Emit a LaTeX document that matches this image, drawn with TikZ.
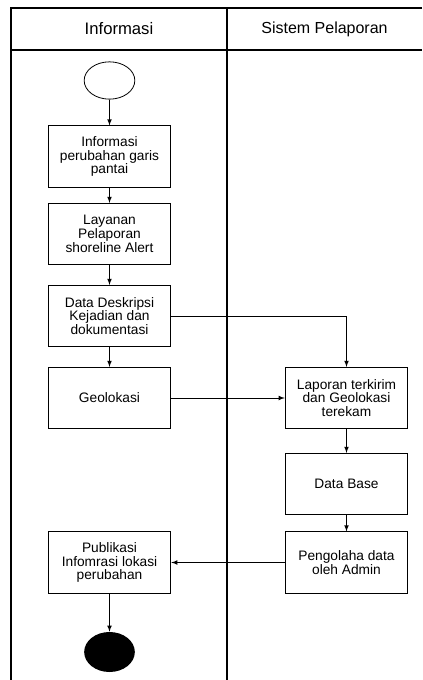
\documentclass[tikz,border=0pt]{standalone}
\usepackage{fontspec}
\setmainfont{Liberation Sans}
\usetikzlibrary{arrows,shapes.geometric}
\tikzstyle{act} = [draw, line width=0.6pt, minimum width=92pt, minimum height=46pt, inner sep=1pt, align=center, font=\fontsize{10.3}{10.4}\selectfont]
\tikzstyle{lane} = [line width=1.3pt]
\tikzstyle{flow} = [-latex, line width=0.6pt]

\begin{document}
\begin{tikzpicture}[x=0.75pt, y=-0.75pt]

\useasboundingbox (0,0) rectangle (422,680);

% swimlanes
\draw[lane] (422,8) -- (11,8) -- (11,680);
\draw[lane] (11,50) -- (422,50);
\draw[lane] (227,8) -- (227,680);
\node[font=\fontsize{12.5}{14}\selectfont] (hinfo) at (119,29) {Informasi};
\node[font=\fontsize{12}{14}\selectfont] (hsis) at (324.5,29) {Sistem Pelaporan};

% informasi
\node[draw, ellipse, line width=0.6pt, minimum width=38pt, minimum height=28pt, inner sep=0pt] (start) at (109.5,80.5) {};
\node[act] (info) at (109.5,156.5) {Informasi\\perubahan garis\\pantai};
\node[act] (layanan) at (109.5,234) {Layanan\\Pelaporan\\shoreline Alert};
\node[act] (deskripsi) at (109.5,316) {Data Deskripsi\\Kejadian dan\\dokumentasi};
\node[act] (geo) at (109.5,398) {Geolokasi};
\node[act] (publik) at (109.5,562.5) {Publikasi\\Infomrasi lokasi\\perubahan};
\node[fill, ellipse, minimum width=38pt, minimum height=30pt, inner sep=0pt] (stop) at (109.5,652) {};

% sistem pelaporan
\node[act] (lapor) at (346.5,398) {Laporan terkirim\\dan Geolokasi\\terekam};
\node[act] (dbase) at (346.5,484) {Data Base};
\node[act] (olah) at (346.5,562.5) {Pengolaha data\\oleh Admin};

\draw[flow] (start) -- (info);
\draw[flow] (info) -- (layanan);
\draw[flow] (layanan) -- (deskripsi);
\draw[flow] (deskripsi) -- (geo);
\draw[flow] (deskripsi.east) -| (lapor.north);
\draw[flow] (geo) -- (lapor);
\draw[flow] (lapor) -- (dbase);
\draw[flow] (dbase) -- (olah);
\draw[flow] (olah) -- (publik);
\draw[flow] (publik) -- (stop);

\end{tikzpicture}
\end{document}
